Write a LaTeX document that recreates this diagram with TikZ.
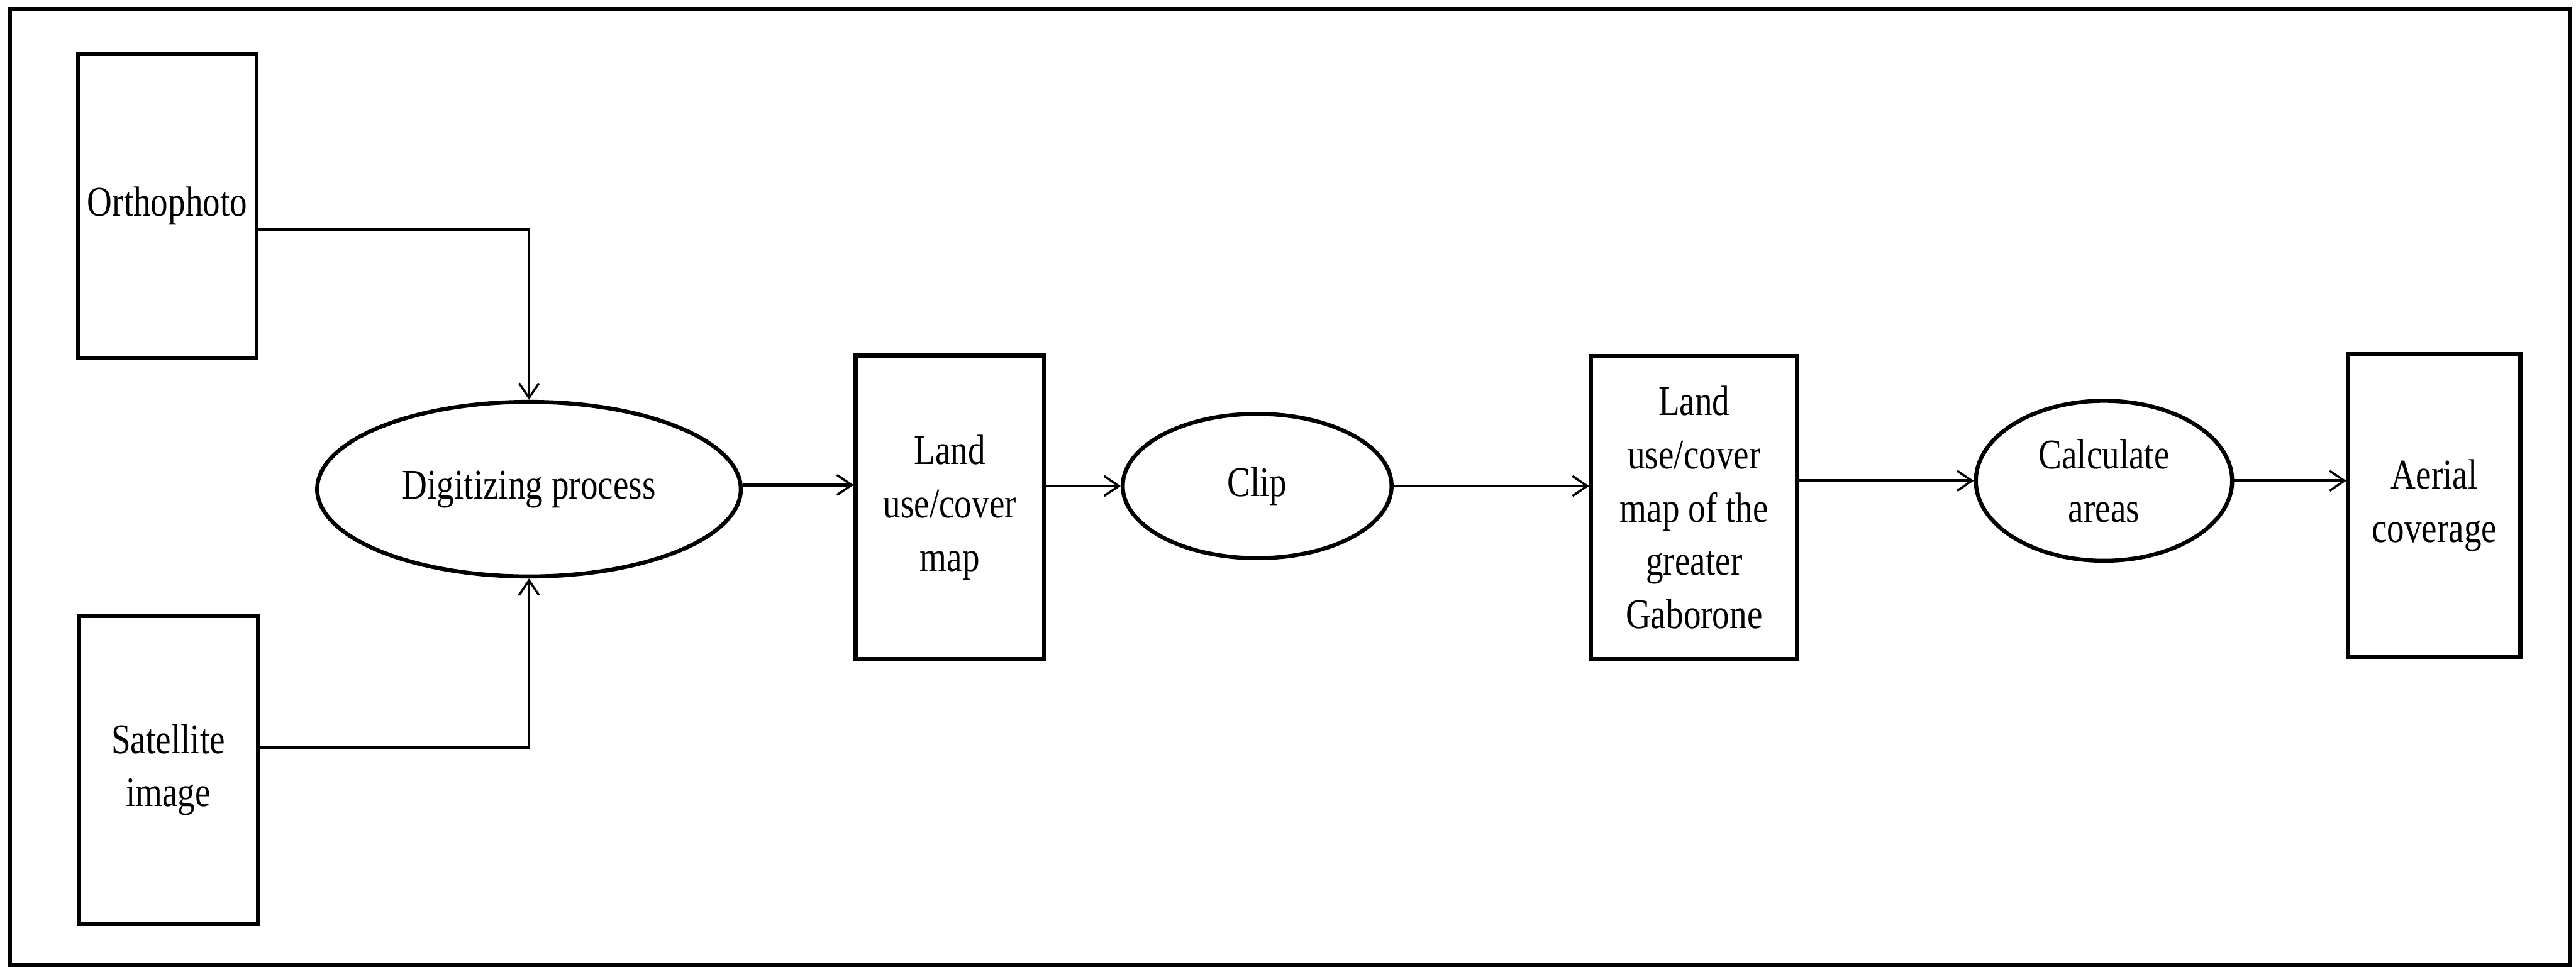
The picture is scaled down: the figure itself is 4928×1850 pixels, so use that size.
\documentclass[tikz,border=0pt]{standalone}
\usepackage{fontspec}
\setmainfont{Liberation Serif}[FakeStretch=0.82]
\usetikzlibrary{arrows.meta,shapes.geometric}
\begin{document}
\begin{tikzpicture}[x=0.01cm,y=-0.01cm,
  box/.style={draw,line width=2.2pt,rectangle,inner sep=0pt,align=center,
    font=\fontsize{23}{29}\selectfont},
  oval/.style={draw,line width=2.2pt,ellipse,inner sep=0pt,align=center,
    font=\fontsize{23}{29}\selectfont},
  arr/.style={line width=1.6pt,-{Straight Barb[length=0.28cm,width=0.38cm,line width=1.2pt]}}]
\useasboundingbox (0,0) rectangle (4928,1850);
\draw[line width=2.2pt] (19,17) rectangle (4917,1846);
\node[box,minimum width=3.42cm,minimum height=5.81cm] (orth) at (320,394) {Orthophoto};
\node[box,minimum width=3.42cm,minimum height=5.88cm] (sat) at (322,1473) {Satellite\\image};
\node[oval,minimum width=8.1cm,minimum height=3.34cm] (dig) at (1012,936) {Digitizing process};
\node[box,minimum width=3.6cm,minimum height=5.81cm] (land) at (1817,971) {Land\\use/cover\\map};
\node[oval,minimum width=5.14cm,minimum height=2.76cm] (clip) at (2405,930) {Clip};
\node[box,minimum width=3.94cm,minimum height=5.8cm] (gab) at (3241,971) {Land\\use/cover\\map of the\\greater\\Gaborone};
\node[oval,minimum width=4.9cm,minimum height=3.06cm] (calc) at (4025,920) {Calculate\\areas};
\node[box,minimum width=3.29cm,minimum height=5.79cm] (aer) at (4657,967) {Aerial\\coverage};
\draw[arr] ([yshift=-0.45cm]orth.east) -| (dig.north);
\draw[arr] ([yshift=0.43cm]sat.east) -| (dig.south);
\draw[arr] ([yshift=0.08cm]dig.east) -- ([yshift=0.08cm]dig.east -| land.west);
\draw[arr] (clip.west -| land.east) -- (clip.west);
\draw[arr] (clip.east) -- (clip.east -| gab.west);
\draw[arr] (calc.west -| gab.east) -- (calc.west);
\draw[arr] (calc.east) -- (calc.east -| aer.west);
\end{tikzpicture}
\end{document}
